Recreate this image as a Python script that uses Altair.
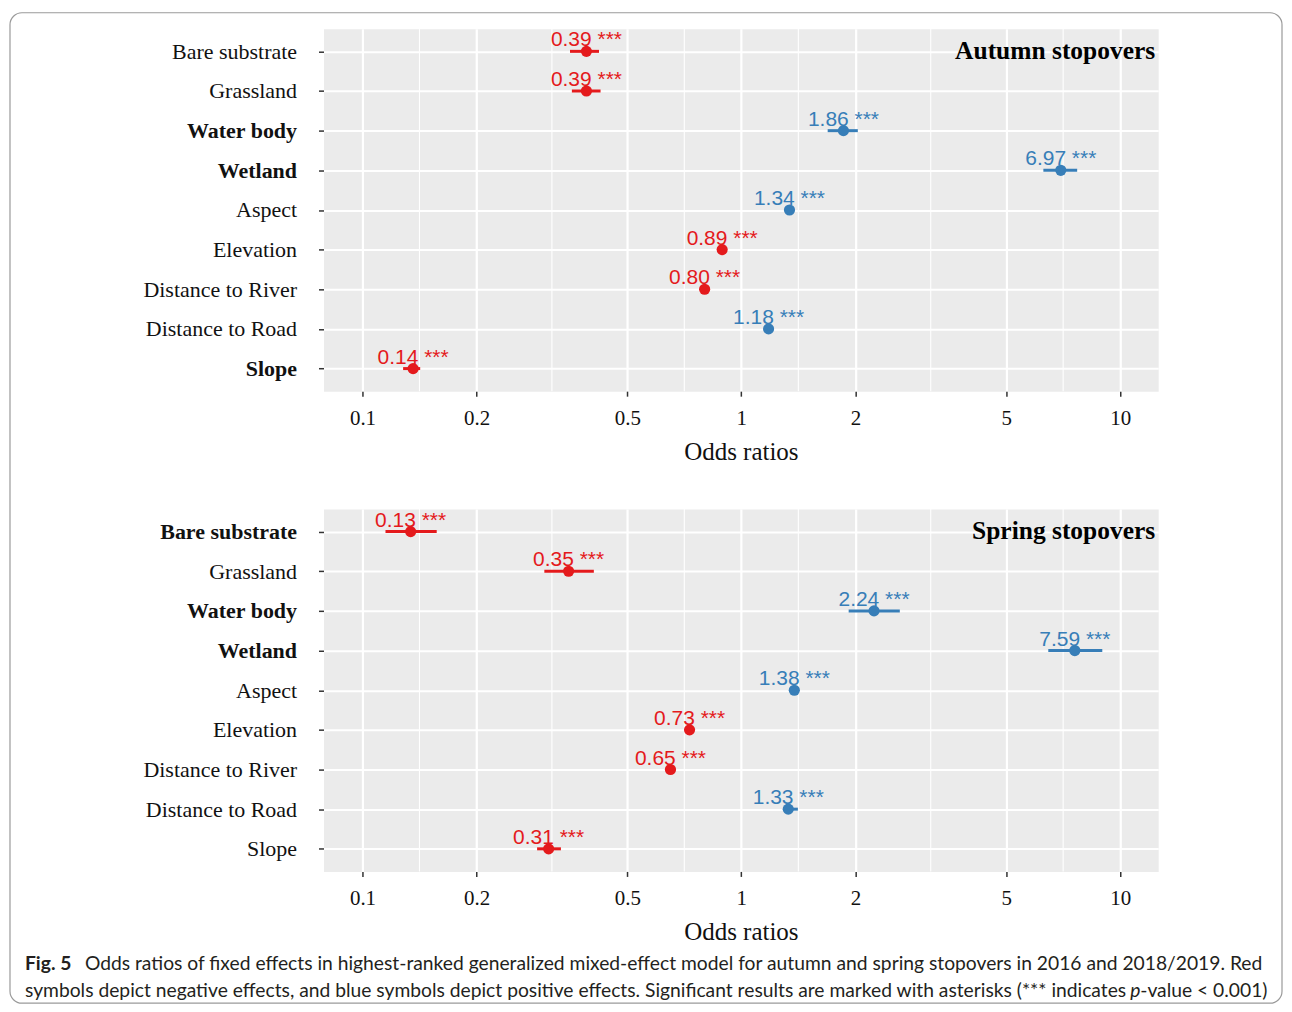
import altair as alt
import pandas as pd

# ---------------- data ----------------
variables = ["Bare substrate", "Grassland", "Water body", "Wetland", "Aspect",
             "Elevation", "Distance to River", "Distance to Road", "Slope"]

autumn_or = [0.39, 0.39, 1.86, 6.97, 1.34, 0.89, 0.80, 1.18, 0.136]
autumn_lo = [0.353, 0.357, 1.69, 6.27, 1.31, 0.87, 0.78, 1.16, 0.128]
autumn_hi = [0.421, 0.425, 2.03, 7.70, 1.37, 0.91, 0.82, 1.20, 0.142]
autumn_labels = ["0.39", "0.39", "1.86", "6.97", "1.34", "0.89", "0.80", "1.18", "0.14"]
autumn_bold = ["Water body", "Wetland", "Slope"]

spring_or = [0.134, 0.35, 2.24, 7.59, 1.38, 0.73, 0.65, 1.33, 0.31]
spring_lo = [0.115, 0.302, 1.92, 6.46, 1.35, 0.71, 0.63, 1.29, 0.289]
spring_hi = [0.157, 0.408, 2.62, 8.97, 1.41, 0.75, 0.67, 1.41, 0.334]
spring_labels = ["0.13", "0.35", "2.24", "7.59", "1.38", "0.73", "0.65", "1.33", "0.31"]
spring_bold = ["Bare substrate", "Water body", "Wetland"]

significance = "***"
major_ticks = [0.1, 0.2, 0.5, 1, 2, 5, 10]
minor_ticks = [0.1414, 0.3162, 0.7071, 1.414, 3.162, 7.071]

caption_bold = "Fig. 5"
caption_line1 = ("Odds ratios of fixed effects in highest-ranked generalized mixed-effect model "
                 "for autumn and spring stopovers in 2016 and 2018/2019. Red")
caption_line2a = ("symbols depict negative effects, and blue symbols depict positive effects. "
                  "Significant results are marked with asterisks (*** indicates")
caption_line2p = "p"
caption_line2b = "-value < 0.001)"

RED = "#E41A1C"
BLUE = "#377EB8"
SERIF = "Liberation Serif"
SANS = "Liberation Sans"

W, H = 836, 363
x_scale = alt.Scale(type="log", domain=[0.0789, 12.6], nice=False)


def panel(vals, lo, hi, labels, bold, title):
    df = pd.DataFrame({
        "variable": variables,
        "or": vals,
        "lo": lo,
        "hi": hi,
        "label": [f"{l} {significance}" for l in labels],
    })
    df["effect"] = ["neg" if v < 1 else "pos" for v in df["or"]]
    color = alt.Color("effect:N", scale=alt.Scale(domain=["neg", "pos"], range=[RED, BLUE]), legend=None)
    bold_js = "[" + ",".join("'" + b + "'" for b in bold) + "]"
    y = alt.Y(
        "variable:N", sort=variables,
        scale=alt.Scale(type="point", padding=0.57),
        axis=alt.Axis(
            title=None, labelFont=SERIF, labelFontSize=22, labelColor="#111111",
            labelFontWeight=alt.ExprRef(expr=f"indexof({bold_js}, datum.value) >= 0 ? 'bold' : 'normal'"),
            tickColor="#333333", tickSize=5, tickWidth=1.5, domain=False,
            grid=True, gridColor="white", gridWidth=2, labelPadding=22,
        ),
    )
    x_axis = alt.Axis(
        values=major_ticks, format="~g", title="Odds ratios",
        labelFont=SERIF, labelFontSize=21, labelColor="#111111", labelPadding=11,
        titleFont=SERIF, titleFontSize=25, titleFontWeight="normal", titleColor="#111111",
        titlePadding=11, tickColor="#333333", tickSize=5, tickWidth=1.5, domain=False,
        grid=True, gridColor="white", gridWidth=2.2,
    )
    base = alt.Chart(df)

    minor = alt.Chart(pd.DataFrame({"or": minor_ticks})).mark_rule(
        color="white", strokeWidth=1.1
    ).encode(x=alt.X("or:Q", scale=x_scale, axis=x_axis, title="Odds ratios"))

    bars = base.mark_rule(strokeWidth=3).encode(
        x=alt.X("lo:Q", scale=x_scale, axis=x_axis, title="Odds ratios"),
        x2="hi:Q", y=y, color=color,
    )
    pts = base.mark_circle(size=125, opacity=1).encode(
        x=alt.X("or:Q", scale=x_scale, axis=x_axis, title="Odds ratios"), y=y, color=color,
    )
    txt = base.mark_text(font=SANS, fontSize=21, align="center", baseline="alphabetic", dy=-5).encode(
        x=alt.X("or:Q", scale=x_scale, axis=x_axis, title="Odds ratios"), y=y, color=color, text="label:N",
    )
    ttl = alt.Chart(pd.DataFrame({"t": [title]})).mark_text(
        font=SERIF, fontSize=25.5, fontWeight="bold", align="right", baseline="alphabetic", color="#000000"
    ).encode(text="t:N", x=alt.value(W - 3), y=alt.value(30))

    return alt.layer(minor, bars, pts, txt, ttl).properties(
        width=W, height=H, view=alt.ViewBackground(fill="#EBEBEB", stroke="transparent")
    )


top = panel(autumn_or, autumn_lo, autumn_hi, autumn_labels, autumn_bold, "Autumn stopovers")
bottom = panel(spring_or, spring_lo, spring_hi, spring_labels, spring_bold, "Spring stopovers")

# caption panel (origin at plot-left, page y ~ 988)
cap_df = pd.DataFrame({"a": [0]})
CAP_FONT = "Lato"
cap_color = "#231F20"
border = alt.Chart(cap_df).mark_rect(
    fillOpacity=0, stroke="#9A9A9A", strokeWidth=1.2, cornerRadius=12
).encode(x=alt.value(-314), x2=alt.value(960), y=alt.value(-978), y2=alt.value(14))


def cap_text(text, x, y, align="left", weight="normal", style="normal"):
    return alt.Chart(pd.DataFrame({"t": [text]})).mark_text(
        font=CAP_FONT, fontSize=19.3, align=align, baseline="middle", color=cap_color,
        fontWeight=weight, fontStyle=style,
    ).encode(text="t:N", x=alt.value(x), y=alt.value(y))


caption = alt.layer(
    border,
    cap_text(caption_bold, -299, -25, weight="bold"),
    cap_text(caption_line1, -239, -25),
    cap_text(caption_line2a, -299, 2),
    cap_text(caption_line2p, 808, 2, style="italic"),
    cap_text(caption_line2b, 818, 2),
).properties(width=W, height=10, view=alt.ViewBackground(stroke="transparent"))

chart = alt.vconcat(top, bottom, caption, spacing=118, bounds="flush").properties(
    padding={"left": 0, "top": 2, "right": 0, "bottom": 0}
).configure_view(stroke="transparent")

chart.save("out.html", embed_options={"renderer": "svg", "actions": False})
